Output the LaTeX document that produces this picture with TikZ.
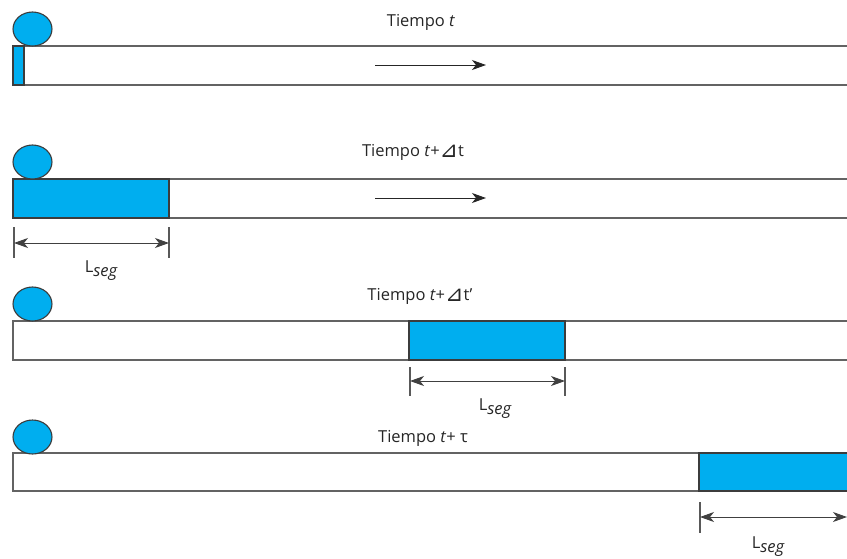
\documentclass[tikz,border=0pt]{standalone}
\usepackage{fontspec}
\setmainfont{Open Sans}
\newfontfamily\symfont{DejaVu Sans}
\usetikzlibrary{arrows.meta,shapes.geometric}
\definecolor{fillblue}{HTML}{00AEEF}
\definecolor{edgegray}{HTML}{3C3C3C}
\tikzset{
  tube/.style={draw=edgegray!80,line width=1.3pt,fill=white},
  slug/.style={draw=edgegray,line width=1.3pt,fill=fillblue},
  ball/.style={ellipse,draw=edgegray,line width=1.1pt,fill=fillblue,minimum width=39pt,minimum height=34pt,inner sep=0pt},
  title/.style={font=\fontsize{16.5}{19}\selectfont,text=black!85,inner sep=0pt},
  lab/.style={font=\fontsize{16.5}{19}\selectfont,text=black!85,inner sep=0pt},
  tip/.style={Stealth[length=14pt,width=10pt,inset=4pt,fill=black!90]},
  flow/.style={draw=black!85,line width=1pt,-{Stealth[length=14pt,width=10pt,inset=4pt]}},
  dim/.style={draw=black!75,line width=1pt,{Stealth[length=14pt,width=10pt,inset=4pt]}-{Stealth[length=14pt,width=10pt,inset=4pt]}},
  tick/.style={draw=black!65,line width=1.1pt}
}
\newcommand{\Lseg}{L\raisebox{-0.45ex}{\itshape seg}}
\newcommand{\dtri}{{\symfont\fontsize{22}{22}\selectfont\raisebox{-0.12ex}{⊿}}}
\begin{document}
\begin{tikzpicture}[x=1pt,y=-1pt]
\useasboundingbox (0,0) rectangle (847,558);
\clip (0,0) rectangle (847,558);
% row 1
\draw[tube] (13,46) rectangle (870,85);
\draw[slug] (13,46) rectangle (24,85);
\node[ball] (b1) at (32.5,29) {};
\node[title] (t1) at (421,22) {Tiempo \textit{t}};
\coordinate (a1s) at (375,65);
\coordinate (a1e) at (486,65);
\draw[flow] (a1s) -- (a1e);
% row 2
\draw[tube] (13,179) rectangle (870,218);
\draw[slug] (13,179) rectangle (169,218);
\node[ball] (b2) at (32.5,162) {};
\node[title] (t2) at (413,152) {Tiempo \textit{t}+\dtri t};
\coordinate (a2s) at (375,198);
\coordinate (a2e) at (486,198);
\draw[flow] (a2s) -- (a2e);
\coordinate (d2a) at (14,227);
\coordinate (d2b) at (169,227);
\draw[tick] (d2a) -- ++(0,31);
\draw[tick] (d2b) -- ++(0,31);
\coordinate (d2l) at (14,243);
\coordinate (d2r) at (169,243);
\draw[dim] (d2l) -- (d2r);
\node[lab] (l2) at (101,271) {\Lseg};
% row 3
\draw[tube] (13,321) rectangle (870,360);
\draw[slug] (409,321) rectangle (565,360);
\node[ball] (b3) at (32.5,304) {};
\node[title] (t3) at (420,296) {Tiempo \textit{t}+\dtri t'};
\coordinate (d3a) at (410,367);
\coordinate (d3b) at (565,367);
\draw[tick] (d3a) -- ++(0,29);
\draw[tick] (d3b) -- ++(0,29);
\coordinate (d3l) at (410,381);
\coordinate (d3r) at (565,381);
\draw[dim] (d3l) -- (d3r);
\node[lab] (l3) at (495,409) {\Lseg};
% row 4
\draw[tube] (13,453) rectangle (870,491);
\draw[slug] (699,453) rectangle (870,491);
\node[ball] (b4) at (32.5,437) {};
\node[title] (t4) at (423,438) {Tiempo \textit{t}+ τ};
\coordinate (d4a) at (700,502);
\draw[tick] (d4a) -- ++(0,31);
\coordinate (d4l) at (700,517);
\coordinate (d4r) at (847,517);
\draw[dim] (d4l) -- (d4r);
\node[lab] (l4) at (768,547) {\Lseg};
\end{tikzpicture}
\end{document}
